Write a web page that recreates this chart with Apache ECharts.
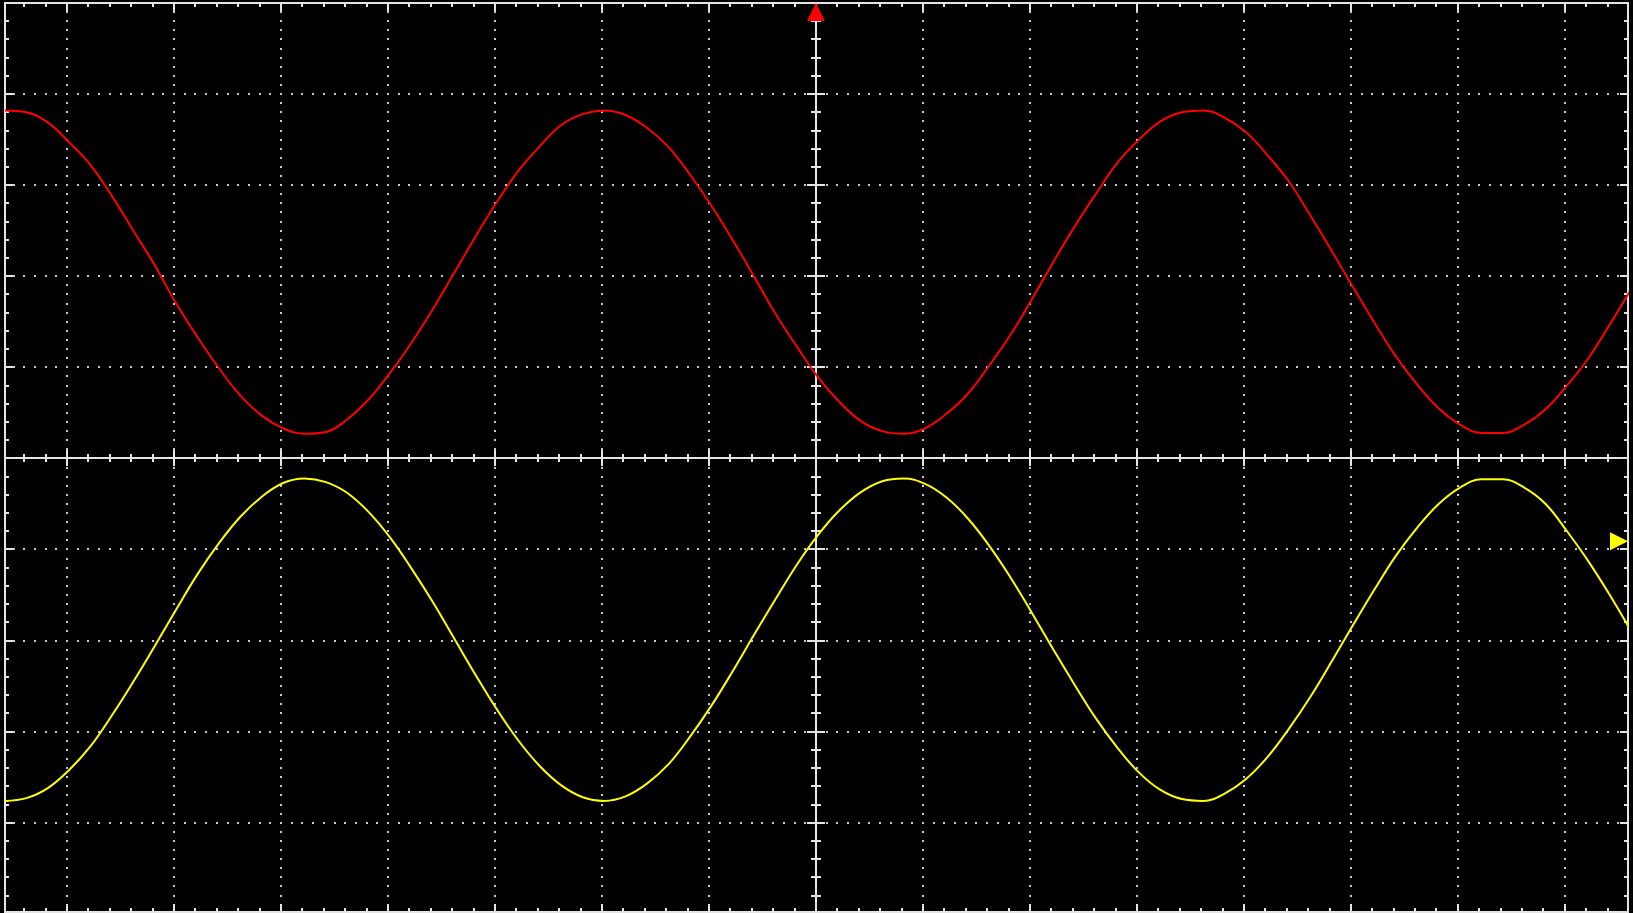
<!DOCTYPE html>
<html>
<head>
<meta charset="utf-8">
<script src="https://cdn.jsdelivr.net/npm/echarts@6/dist/echarts.min.js"></script>
<style>
html,body{margin:0;padding:0;background:#000;overflow:hidden;}
#chart{width:1633px;height:913px;}
</style>
</head>
<body>
<div id="chart"></div>
<script>
// Time axis (in screen divisions): first sample and sampling step
const sampleStart = -7.58;
const sampleStep = 0.2;

// Channel 1 (red) – vertical position in divisions
const ch1Red = [
  3.82, 3.80, 3.69, 3.47, 3.22, 2.88, 2.50, 2.12, 1.70, 1.33,
  0.99, 0.69, 0.47, 0.33, 0.27, 0.29, 0.43, 0.65, 0.94, 1.27,
  1.64, 2.04, 2.44, 2.82, 3.16, 3.43, 3.66, 3.78, 3.82, 3.77,
  3.63, 3.42, 3.12, 2.78, 2.40, 2.00, 1.59, 1.23, 0.89, 0.62,
  0.41, 0.30, 0.27, 0.33, 0.49, 0.71, 1.02, 1.36, 1.75, 2.16,
  2.55, 2.91, 3.25, 3.50, 3.70, 3.80, 3.82, 3.74, 3.58, 3.33,
  3.04, 2.67, 2.28, 1.88, 1.49, 1.12, 0.81, 0.55, 0.37, 0.28,
  0.28, 0.37, 0.54, 0.80, 1.10, 1.47, 1.86
];

// Channel 2 (yellow) – vertical position in divisions
const ch2Yellow = [
  -3.76, -3.73, -3.62, -3.42, -3.16, -2.82, -2.45, -2.06, -1.66, -1.27,
  -0.93, -0.64, -0.42, -0.27, -0.22, -0.26, -0.38, -0.59, -0.87, -1.21,
  -1.58, -1.98, -2.38, -2.76, -3.10, -3.38, -3.59, -3.72, -3.76, -3.71,
  -3.57, -3.36, -3.06, -2.72, -2.34, -1.94, -1.55, -1.17, -0.84, -0.57,
  -0.37, -0.25, -0.22, -0.28, -0.43, -0.66, -0.96, -1.31, -1.70, -2.10,
  -2.49, -2.86, -3.18, -3.45, -3.64, -3.74, -3.76, -3.68, -3.52, -3.28,
  -2.97, -2.62, -2.23, -1.83, -1.44, -1.07, -0.76, -0.50, -0.32, -0.23,
  -0.23, -0.32, -0.50, -0.80, -1.13, -1.50, -1.90
];

// Screen extent in divisions
const xRange = [-7.58, 7.59];
const yRange = [-4.98, 5];

// Markers: trigger position (top, red) and channel-2 level (right, yellow)
const triggerPosX = 0;
const ch2Level = -0.91;

const sampleX = ch1Red.map((_, i) => +(sampleStart + i * sampleStep).toFixed(3));
const redData = ch1Red.map((v, i) => [sampleX[i], v]);
const yellowData = ch2Yellow.map((v, i) => [sampleX[i], v]);

const GRID_COLOR = '#c8c8c8';
const AXIS_COLOR = '#e4e4e4';

function renderScreen(params, api) {
  const [x0, x1] = xRange, [y0, y1] = yRange;
  const P = (x, y) => api.coord([x, y]);
  const R = Math.round;
  let dots = '';
  // vertical dotted lines
  for (let k = Math.ceil(x0); k <= Math.floor(x1); k++) {
    if (k === 0) continue;
    for (let j = Math.ceil(y0 * 10); j <= Math.floor(y1 * 10); j++) {
      const p = P(k, j / 10);
      dots += 'M' + (R(p[0]) - 1) + ' ' + (R(p[1]) - 1) + 'h2v2h-2Z';
    }
  }
  // horizontal dotted lines
  for (let k = Math.ceil(y0); k <= Math.floor(y1) - 1; k++) {
    if (k === 0) continue;
    for (let j = Math.ceil(x0 * 10); j <= Math.floor(x1 * 10); j++) {
      const p = P(j / 10, k);
      dots += 'M' + (R(p[0]) - 1) + ' ' + (R(p[1]) - 1) + 'h2v2h-2Z';
    }
  }
  let ticks = '';
  // top / bottom border ticks and center horizontal axis ticks
  for (let j = Math.ceil(x0 * 5); j <= Math.floor(x1 * 5); j++) {
    const major = j % 5 === 0;
    const len = major ? 8 : 4;
    const pt = P(j / 5, y1), pb = P(j / 5, y0), pc = P(j / 5, 0);
    const x = R(pt[0]);
    ticks += 'M' + x + ' ' + R(pt[1]) + 'v' + len;
    ticks += 'M' + x + ' ' + R(pb[1]) + 'v' + (-len);
    const cl = major ? 8 : 4;
    ticks += 'M' + x + ' ' + (R(pc[1]) - cl) + 'v' + (2 * cl);
  }
  // left / right border ticks and center vertical axis ticks
  for (let j = Math.ceil(y0 * 5); j <= Math.floor(y1 * 5); j++) {
    const major = j % 5 === 0;
    const len = major ? 8 : 4;
    const pl = P(x0, j / 5), pr = P(x1, j / 5), pc = P(0, j / 5);
    const y = R(pl[1]);
    ticks += 'M' + R(pl[0]) + ' ' + y + 'h' + len;
    ticks += 'M' + R(pr[0]) + ' ' + y + 'h' + (-len);
    const cl = major ? 9 : 5;
    ticks += 'M' + (R(pc[0]) - cl) + ' ' + y + 'h' + (2 * cl);
  }
  const tl = P(x0, y1), br = P(x1, y0), c = P(0, 0);
  const L = R(tl[0]), T = R(tl[1]), Rr = R(br[0]), B = R(br[1]);
  const frame = 'M' + L + ' ' + T + 'H' + Rr + 'V' + B + 'H' + L + 'Z' +
    'M' + L + ' ' + R(c[1]) + 'H' + Rr +
    'M' + R(c[0]) + ' ' + T + 'V' + B;
  return {
    type: 'group',
    children: [
      { type: 'path', shape: { pathData: dots }, style: { fill: GRID_COLOR, stroke: null } },
      { type: 'path', shape: { pathData: ticks }, style: { fill: null, stroke: AXIS_COLOR, lineWidth: 2 } },
      { type: 'path', shape: { pathData: frame }, style: { fill: null, stroke: AXIS_COLOR, lineWidth: 2 } }
    ]
  };
}

function renderMarkers(params, api) {
  const t = api.coord([triggerPosX, yRange[1]]);
  const y = api.coord([xRange[1], ch2Level]);
  return {
    type: 'group',
    children: [
      { type: 'polygon', shape: { points: [[t[0], t[1]], [t[0] - 9, t[1] + 18], [t[0] + 9, t[1] + 18]] },
        style: { fill: '#ff0000' } },
      { type: 'polygon', shape: { points: [[y[0], y[1]], [y[0] - 18, y[1] - 9], [y[0] - 18, y[1] + 9]] },
        style: { fill: '#ffff00' } }
    ]
  };
}

const chart = echarts.init(document.getElementById('chart'), null, { renderer: 'canvas' });
chart.setOption({
  backgroundColor: '#000000',
  animation: false,
  grid: { left: 5, top: 3, width: 1623, height: 909, containLabel: false },
  xAxis: { type: 'value', min: xRange[0], max: xRange[1], show: false },
  yAxis: { type: 'value', min: yRange[0], max: yRange[1], show: false },
  series: [
    { type: 'custom', name: 'screen', data: [[0, 0]], renderItem: renderScreen, silent: true, z: 1 },
    { type: 'line', name: 'CH1', data: redData, showSymbol: false, symbol: 'none', z: 3, smooth: 0.4,
      lineStyle: { color: '#ff0000', width: 2 }, itemStyle: { color: '#ff0000' } },
    { type: 'line', name: 'CH2', data: yellowData, showSymbol: false, symbol: 'none', z: 3, smooth: 0.4,
      lineStyle: { color: '#ffff00', width: 2 }, itemStyle: { color: '#ffff00' } },
    { type: 'custom', name: 'markers', data: [[0, 0]], renderItem: renderMarkers, silent: true, z: 5 }
  ]
});
</script>
</body>
</html>
